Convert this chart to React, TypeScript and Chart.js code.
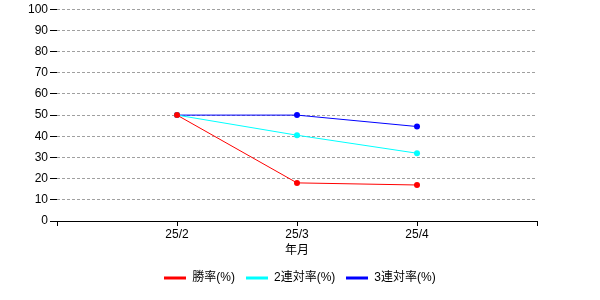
import React, { useEffect, useRef } from "react";
import { Chart, registerables } from "chart.js";

Chart.register(...registerables);

const categories = ["", "25/2", "25/3", "25/4", ""];
const winRate = [null, 50, 18, 17, null];
const top2Rate = [null, 50, 40.5, 32, null];
const top3Rate = [null, 50, 50, 44.6, null];
const seriesNames = ["勝率(%)", "2連対率(%)", "3連対率(%)"];
const seriesColors = ["#ff0000", "#00ffff", "#0000ff"];
const yTicks = [0, 10, 20, 30, 40, 50, 60, 70, 80, 90, 100];
const xTitle = "年月";

const FONT = "'Liberation Sans', 'Noto Sans CJK JP', sans-serif";

function legendMarker(color: string) {
  const c = document.createElement("canvas");
  c.width = 22;
  c.height = 7;
  const ctx = c.getContext("2d")!;
  ctx.fillStyle = color;
  ctx.fillRect(0, 2, 22, 3);
  ctx.beginPath();
  ctx.arc(11, 3.5, 1.5, 0, Math.PI * 2);
  ctx.fill();
  return c;
}

export default function App() {
  const ref = useRef<HTMLCanvasElement>(null);
  useEffect(() => {
    document.body.style.margin = "0";
    const series = [winRate, top2Rate, top3Rate];
    const chart = new Chart(ref.current!, {
      type: "line",
      data: {
        labels: categories,
        datasets: series.map((d, i) => ({
          label: seriesNames[i],
          data: d,
          borderColor: seriesColors[i],
          backgroundColor: seriesColors[i],
          borderWidth: 1,
          pointRadius: 3,
          pointBackgroundColor: seriesColors[i],
          pointBorderWidth: 0,
          pointStyle: "circle",
          spanGaps: false,
        })),
      },
      options: {
        animation: false,
        responsive: false,
        layout: { padding: { top: 9, right: 0, left: 0, bottom: 6 } },
        plugins: {
          tooltip: { enabled: false },
          legend: {
            position: "bottom",
            labels: {
              usePointStyle: true,
              pointStyleWidth: 22,
              padding: 11,
              color: "#000",
              font: { family: FONT, size: 12 },
              generateLabels: (ch: any) =>
                ch.data.datasets.map((ds: any, i: number) => ({
                  text: ds.label,
                  pointStyle: legendMarker(seriesColors[i]),
                  fillStyle: seriesColors[i],
                  strokeStyle: seriesColors[i],
                  lineWidth: 0,
                  hidden: false,
                  datasetIndex: i,
                  fontColor: "#000",
                })),
            },
          },
        },
        scales: {
          x: {
            type: "category",
            offset: false,
            afterFit: (s: any) => {
              s.height = 40;
            },
            border: { display: true, color: "#000", width: 1 },
            grid: {
              drawOnChartArea: false,
              drawTicks: true,
              tickLength: 5,
              tickColor: "#000",
            },
            ticks: {
              color: "#000",
              padding: 1,
              maxRotation: 0,
              autoSkip: false,
              font: { family: FONT, size: 12 },
            },
            title: {
              display: true,
              text: xTitle,
              color: "#000",
              font: { family: FONT, size: 12 },
              padding: { top: 4, bottom: 3 },
            },
          },
          y: {
            min: 0,
            max: 100,
            afterFit: (s: any) => {
              s.width = 57;
            },
            afterBuildTicks: (s: any) => {
              s.ticks = yTicks.map((v) => ({ value: v }));
            },
            border: { display: false, dash: [3, 2] },
            grid: {
              color: "#a0a0a0",
              tickColor: "#000",
              tickBorderDash: [],
              tickLength: 7,
              lineWidth: 1,
            },
            ticks: {
              color: "#000",
              padding: 2,
              font: { family: FONT, size: 12 },
            },
          },
          yRight: {
            position: "right",
            min: 0,
            max: 100,
            afterFit: (s: any) => {
              s.width = 63;
            },
            border: { display: false },
            grid: { display: false, drawOnChartArea: false },
            ticks: { display: false },
          },
        },
      } as any,
    });
    return () => chart.destroy();
  }, []);
  return (
    <div style={{ width: 600, height: 300 }}>
      <canvas ref={ref} width={600} height={300} />
    </div>
  );
}
